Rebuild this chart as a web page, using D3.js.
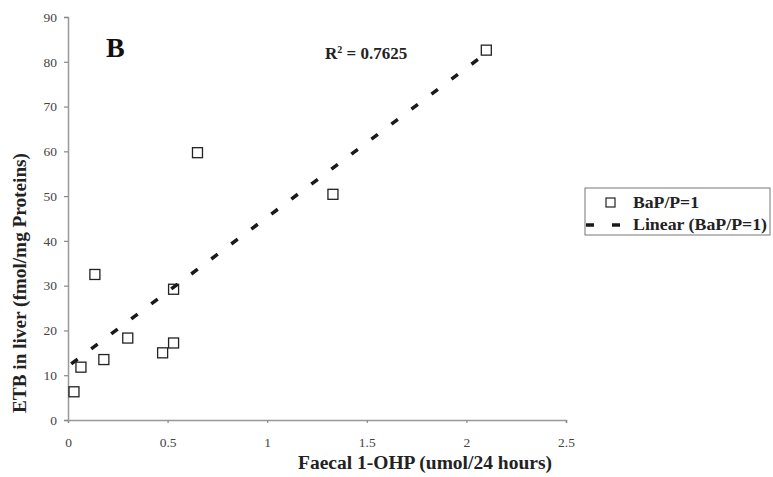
<!DOCTYPE html>
<html><head><meta charset="utf-8">
<script src="https://cdn.jsdelivr.net/npm/d3@7"></script>
<style>html,body{margin:0;padding:0;background:#fff;}svg{display:block;}</style>
</head><body><svg id="c" width="773" height="477"></svg>
<script>
const xValues = [0.03, 0.065, 0.135, 0.18, 0.30, 0.475, 0.53, 0.53, 0.65, 1.33, 2.10];
const yValues = [6.3, 11.8, 32.5, 13.5, 18.3, 15.0, 17.2, 29.2, 59.7, 50.4, 82.6];
const trendX = [0, 2.12];
const trendY = [12.0, 82.6];
const xTicks = [0, 0.5, 1, 1.5, 2, 2.5];
const yTicks = [0, 10, 20, 30, 40, 50, 60, 70, 80, 90];
const seriesName = "BaP/P=1";
const trendName = "Linear (BaP/P=1)";
const r2Label = "0.7625";

const svg = d3.select("#c");
const x = d3.scaleLinear().domain([0, 2.5]).range([68, 566]);
const y = d3.scaleLinear().domain([0, 90]).range([420, 17]);
const serif = "'Liberation Serif','DejaVu Serif',serif";

// axes
const xAxis = svg.append("g").attr("transform", `translate(0,${y(0)})`)
  .call(d3.axisBottom(x).tickValues(xTicks).tickFormat(d3.format("")).tickSize(3).tickPadding(14));
const yAxis = svg.append("g").attr("transform", `translate(${x(0)},0)`)
  .call(d3.axisLeft(y).tickValues(yTicks).tickSize(4).tickPadding(7));
[xAxis, yAxis].forEach(g => {
  g.select(".domain").attr("stroke", "#999").attr("stroke-width", 1.5);
  g.selectAll(".tick line").attr("stroke", "#888").attr("stroke-width", 1.2);
  g.selectAll(".tick text").attr("fill", "#444").style("font-family", serif).style("font-size", "13.5px");
});

// trendline
svg.append("line")
  .attr("x1", x(trendX[0])).attr("y1", y(trendY[0]))
  .attr("x2", x(trendX[1])).attr("y2", y(trendY[1]))
  .attr("stroke", "#1a1a1a").attr("stroke-width", 3.5)
  .attr("stroke-dasharray", "8,17").attr("stroke-dashoffset", -4);

// points
const s = 10;
svg.append("g").selectAll("rect").data(xValues.map((d, i) => [d, yValues[i]])).join("rect")
  .attr("x", d => x(d[0]) - s / 2).attr("y", d => y(d[1]) - s / 2)
  .attr("width", s).attr("height", s)
  .attr("fill", "none").attr("stroke", "#222").attr("stroke-width", 1.3);

// annotations
svg.append("text").attr("x", 106).attr("y", 57).text("B")
  .style("font-family", serif).style("font-weight", "bold").style("font-size", "28px").attr("fill", "#111");
const rt = svg.append("text").attr("x", 325).attr("y", 59)
  .style("font-family", serif).style("font-weight", "bold").style("font-size", "17px").attr("fill", "#222");
rt.append("tspan").text("R");
rt.append("tspan").text("2").attr("dy", -6).style("font-size", "10px");
rt.append("tspan").text(" = " + r2Label).attr("dy", 6);

// axis titles
svg.append("text").attr("x", 425).attr("y", 469).attr("text-anchor", "middle")
  .text("Faecal 1-OHP (umol/24 hours)")
  .attr("textLength", 254).attr("lengthAdjust", "spacingAndGlyphs")
  .style("font-family", serif).style("font-weight", "bold").style("font-size", "18px").attr("fill", "#222");
svg.append("text").attr("transform", "translate(26,283) rotate(-90)").attr("text-anchor", "middle")
  .text("ETB in liver (fmol/mg Proteins)")
  .attr("textLength", 260).attr("lengthAdjust", "spacingAndGlyphs")
  .style("font-family", serif).style("font-weight", "bold").style("font-size", "18px").attr("fill", "#222");

// legend
const lg = svg.append("g");
lg.append("rect").attr("x", 585).attr("y", 188).attr("width", 185).attr("height", 47)
  .attr("fill", "#fff").attr("stroke", "#777").attr("stroke-width", 1);
lg.append("rect").attr("x", 606).attr("y", 198).attr("width", 9).attr("height", 9)
  .attr("fill", "none").attr("stroke", "#222").attr("stroke-width", 1.2);
lg.append("line").attr("x1", 586).attr("x2", 622).attr("y1", 225).attr("y2", 225)
  .attr("stroke", "#1a1a1a").attr("stroke-width", 3.5).attr("stroke-dasharray", "8,18");
lg.append("text").attr("x", 633).attr("y", 208).text(seriesName)
  .attr("textLength", 66).attr("lengthAdjust", "spacingAndGlyphs")
  .style("font-family", serif).style("font-weight", "bold").style("font-size", "16px").attr("fill", "#222");
lg.append("text").attr("x", 633).attr("y", 230).text(trendName)
  .attr("textLength", 134).attr("lengthAdjust", "spacingAndGlyphs")
  .style("font-family", serif).style("font-weight", "bold").style("font-size", "16px").attr("fill", "#222");
</script></body></html>
